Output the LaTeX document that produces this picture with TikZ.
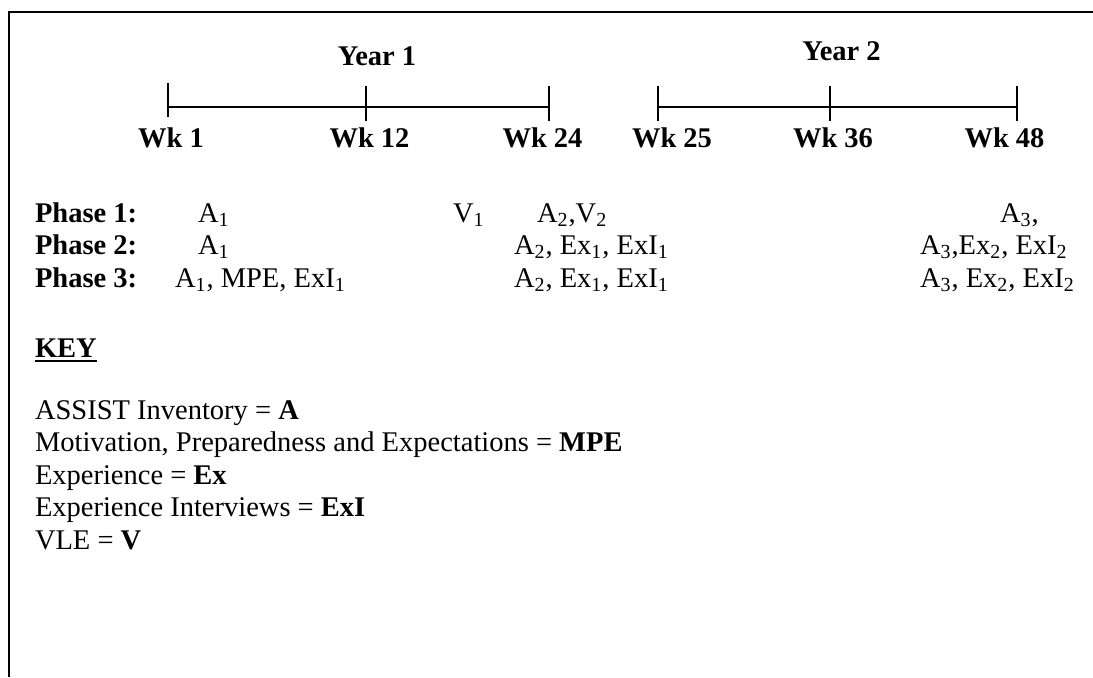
\documentclass[tikz,border=0pt]{standalone}
\usepackage{fontspec}
\setmainfont{Liberation Serif}
\begin{document}
\begin{tikzpicture}[x=0.5pt,y=-0.5pt,
  txt/.style={inner sep=0pt,outer sep=0pt,font=\fontsize{14.25}{16}\selectfont},
  lbl/.style={txt,anchor=base,font=\fontsize{14.25}{16}\selectfont\bfseries},
  lt/.style={txt,anchor=base west},
  axis/.style={line width=0.75pt},
  frame/.style={line width=1pt}]
\useasboundingbox (0,0) rectangle (1093,677);

% open frame: top and left edges
\coordinate (fb) at (9,677);
\coordinate (ftl) at (9,12);
\coordinate (ftr) at (1094,12);
\draw[frame] (fb) -- (ftl) -- (ftr);

% year 1 timeline
\coordinate (w1)  at (168,107);
\coordinate (w12) at (366,107);
\coordinate (w24) at (549,107);
\draw[axis] (w1) -- (w12) -- (w24);
\draw[axis] ([yshift=12pt]w1) -- ([yshift=-5pt]w1);
\draw[axis] ([yshift=10.5pt]w12) -- ([yshift=-7pt]w12);
\draw[axis] ([yshift=10.5pt]w24) -- ([yshift=-7pt]w24);

% year 2 timeline
\coordinate (w25) at (658,107);
\coordinate (w36) at (830,107);
\coordinate (w48) at (1017,107);
\draw[axis] (w25) -- (w36) -- (w48);
\draw[axis] ([yshift=10.5pt]w25) -- ([yshift=-7pt]w25);
\draw[axis] ([yshift=10.5pt]w36) -- ([yshift=-7pt]w36);
\draw[axis] ([yshift=10.5pt]w48) -- ([yshift=-7pt]w48);

% year headings and week labels
\node[lbl] (y1) at (377,65) {Year 1};
\node[lbl] (y2) at (841.5,60) {Year 2};
\node[lbl] (l1)  at (171,147) {Wk 1};
\node[lbl] (l12) at (369.5,147) {Wk 12};
\node[lbl] (l24) at (542.5,147) {Wk 24};
\node[lbl] (l25) at (672,147) {Wk 25};
\node[lbl] (l36) at (833,147) {Wk 36};
\node[lbl] (l48) at (1004.5,147) {Wk 48};

% phase rows
\node[lt] (p1) at (35,222) {\textbf{Phase 1:}};
\node[lt] (p2) at (35,254.5) {\textbf{Phase 2:}};
\node[lt] (p3) at (35,287) {\textbf{Phase 3:}};

\node[lt] (p1a) at (198,222) {A\textsubscript{1}};
\node[lt] (p1b) at (453,222) {V\textsubscript{1}};
\node[lt] (p1c) at (537,222) {A\textsubscript{2},V\textsubscript{2}};
\node[lt] (p1d) at (1000,222) {A\textsubscript{3},};

\node[lt] (p2a) at (198,254.5) {A\textsubscript{1}};
\node[lt] (p2b) at (514,254.5) {A\textsubscript{2}, Ex\textsubscript{1}, ExI\textsubscript{1}};
\node[lt] (p2c) at (920,254.5) {A\textsubscript{3},Ex\textsubscript{2}, ExI\textsubscript{2}};

\node[lt] (p3a) at (175,287) {A\textsubscript{1}, MPE, ExI\textsubscript{1}};
\node[lt] (p3b) at (514,287) {A\textsubscript{2}, Ex\textsubscript{1}, ExI\textsubscript{1}};
\node[lt] (p3c) at (920,287) {A\textsubscript{3}, Ex\textsubscript{2}, ExI\textsubscript{2}};

% key
\node[lt] (key) at (35,357) {\textbf{KEY}};
\draw[line width=1pt] ([yshift=-1.8pt]key.base west) -- ([yshift=-1.8pt]key.base east);
\node[lt] (k1) at (35,419) {ASSIST Inventory = \textbf{A}};
\node[lt] (k2) at (35,451.5) {Motivation, Preparedness and Expectations = \textbf{MPE}};
\node[lt] (k3) at (35,484) {Experience = \textbf{Ex}};
\node[lt] (k4) at (35,516.5) {Experience Interviews = \textbf{ExI}};
\node[lt] (k5) at (35,549) {VLE = \textbf{V}};
\end{tikzpicture}
\end{document}
